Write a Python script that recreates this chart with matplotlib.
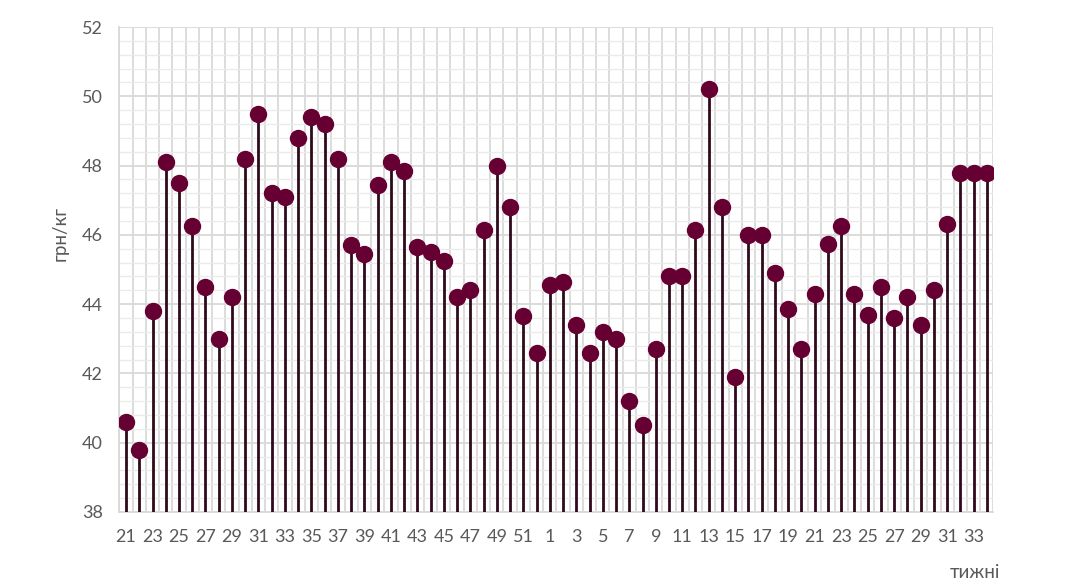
import numpy as np
import matplotlib.pyplot as plt
from matplotlib.ticker import MultipleLocator

# weeks: 21..52 of one year, then 1..34 of the next
weeks = list(range(21, 53)) + list(range(1, 35))
price = [40.6, 39.8, 43.8, 48.1, 47.5, 46.25, 44.5, 43.0, 44.2, 48.2,
         49.5, 47.2, 47.1, 48.8, 49.4, 49.2, 48.2, 45.7, 45.45, 47.45,
         48.1, 47.85, 45.65, 45.5, 45.25, 44.2, 44.4, 46.15, 48.0, 46.8,
         43.65, 42.6,
         44.55, 44.65, 43.4, 42.6, 43.2, 43.0, 41.2, 40.5, 42.7, 44.8,
         44.8, 46.15, 50.2, 46.8, 41.9, 46.0, 46.0, 44.9, 43.85, 42.7,
         44.3, 45.75, 46.25, 44.3, 43.7, 44.5, 43.6, 44.2, 43.4, 44.4,
         46.3, 47.8, 47.8, 47.8]
ylabel = "грн/кг"
xlabel = "тижні"

plt.rcParams['font.family'] = ['Lato', 'DejaVu Sans']
text_col = '#595959'

fig = plt.figure(figsize=(10.67, 5.86), dpi=100)
ax = fig.add_axes([0.1119, 0.1263, 0.8192, 0.8276])

x = np.arange(len(weeks))
ax.vlines(x, 38, price, color='#2E0A1A', linewidth=2, zorder=3)
ax.plot(x, price, 'o', color='#660033', markersize=11.5, zorder=4)

ax.set_xlim(-0.5, len(weeks) - 0.5)
ax.set_ylim(38, 52)
ax.yaxis.set_major_locator(MultipleLocator(2))
ax.yaxis.set_minor_locator(MultipleLocator(0.4))
ax.set_xticks(x[::2])
ax.set_xticklabels([str(w) for w in weeks[::2]])
ax.set_xticks(np.arange(len(weeks) + 1) - 0.5, minor=True)

ax.grid(axis='y', which='major', color='#D9D9D9', linewidth=1.3, zorder=0)
ax.grid(axis='y', which='minor', color='#EBEBEB', linewidth=1.0, zorder=0)
ax.grid(axis='x', which='minor', color='#D9D9D9', linewidth=1.3, zorder=0)
ax.grid(axis='x', which='major', visible=False)

for s in ax.spines.values():
    s.set_visible(False)
for side in ('bottom', 'left'):
    ax.spines[side].set_visible(True)
    ax.spines[side].set_color('#D9D9D9')
    ax.spines[side].set_linewidth(1.3)

ax.tick_params(axis='both', which='both', length=0, colors=text_col, labelsize=13)
ax.tick_params(axis='y', pad=12)
ax.tick_params(axis='x', pad=12)

fig.text(60 / 1067, 1 - 233 / 586, ylabel, rotation=90, ha='center', va='center',
         fontsize=13.5, color=text_col)
fig.text(975 / 1067, 1 - 572 / 586, xlabel, ha='center', va='center',
         fontsize=13.5, color=text_col)

fig.savefig('out.png', dpi=100, facecolor='white')
